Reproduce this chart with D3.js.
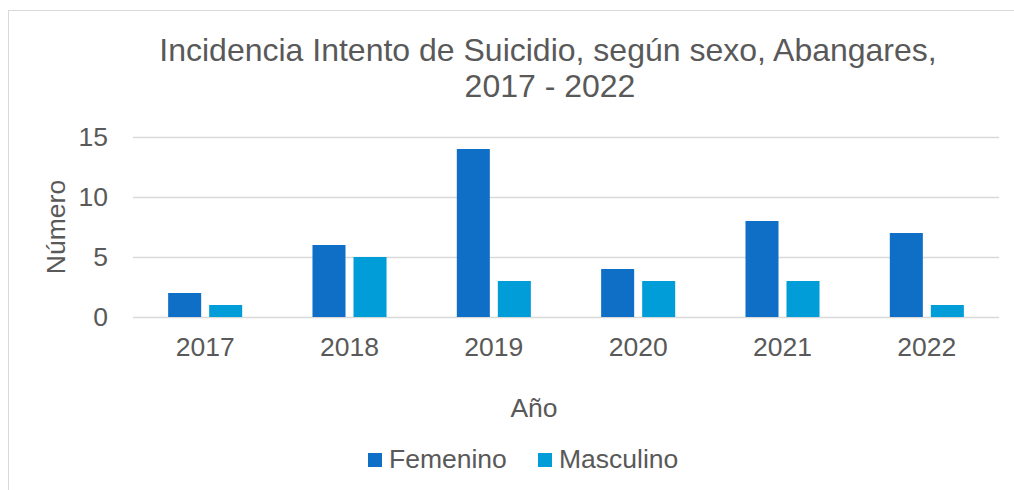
<!DOCTYPE html>
<html>
<head>
<meta charset="utf-8">
<script src="https://cdn.jsdelivr.net/npm/d3@7"></script>
<style>
  body { margin: 0; background: #fff; }
  text { font-family: "Liberation Sans", Arial, sans-serif; fill: #595959; }
</style>
</head>
<body>
<div id="chart"></div>
<script>
// data
var years = ["2017", "2018", "2019", "2020", "2021", "2022"];
var femenino = [2, 6, 14, 4, 8, 7];
var masculino = [1, 5, 3, 3, 3, 1];
var seriesNames = ["Femenino", "Masculino"];
var yTicks = [0, 5, 10, 15];
var colors = ["#0F6FC6", "#009DD9"];

var data = years.map(function(y, i) {
  return { year: y, values: [femenino[i], masculino[i]] };
});

var W = 1014, H = 490;
var margin = {top: 137, right: 15, bottom: 173, left: 133},
    width = W - margin.left - margin.right,
    height = H - margin.top - margin.bottom;

var root = d3.select("#chart")
  .append("svg")
    .attr("width", W)
    .attr("height", H);

// chart border (runs off right and bottom)
root.append("rect")
  .attr("x", 8.5).attr("y", 10.5)
  .attr("width", 1200).attr("height", 600)
  .attr("fill", "none")
  .attr("stroke", "#D9D9D9")
  .attr("stroke-width", 1);

// title
var title = root.append("text")
  .attr("text-anchor", "middle")
  .style("font-size", "32px");
title.append("tspan").attr("x", 548).attr("y", 61)
  .text("Incidencia Intento de Suicidio, según sexo, Abangares,");
title.append("tspan").attr("x", 550).attr("y", 97)
  .text("2017 - 2022");

var svg = root.append("g")
  .attr("transform", "translate(" + margin.left + "," + margin.top + ")");

// scales
var x0 = d3.scaleBand()
  .domain(years)
  .range([0, width])
  .paddingInner(0.487)
  .paddingOuter(0.2435);

var x1 = d3.scaleBand()
  .domain(seriesNames)
  .range([0, x0.bandwidth()])
  .paddingInner(0.195);

var y = d3.scaleLinear()
  .domain([0, 15])
  .range([height, 0]);

// gridlines
svg.append("g")
  .call(d3.axisLeft(y).tickValues(yTicks).tickSize(-width).tickFormat(""))
  .call(function(g) {
    g.select(".domain").remove();
    g.selectAll("line").attr("stroke", "#D9D9D9").attr("stroke-width", 1.5);
  });

// y tick labels
svg.append("g")
  .call(d3.axisLeft(y).tickValues(yTicks).tickSize(0).tickPadding(25))
  .call(function(g) {
    g.select(".domain").remove();
    g.selectAll("text").style("font-size", "26.5px").attr("fill", "#595959")
      .style("font-family", "Liberation Sans, Arial, sans-serif");
  });

// x axis labels
svg.append("g")
  .attr("transform", "translate(0," + height + ")")
  .call(d3.axisBottom(x0).tickSize(0).tickPadding(20))
  .call(function(g) {
    g.select(".domain").remove();
    g.selectAll("text").style("font-size", "26.5px").attr("fill", "#595959")
      .style("font-family", "Liberation Sans, Arial, sans-serif");
  });

// bars
var groups = svg.selectAll(".grp")
  .data(data)
  .enter()
  .append("g")
    .attr("class", "grp")
    .attr("transform", function(d) { return "translate(" + x0(d.year) + ",0)"; });

groups.selectAll("rect")
  .data(function(d) { return d.values.map(function(v, i) { return {name: seriesNames[i], value: v, i: i}; }); })
  .enter()
  .append("rect")
    .attr("x", function(d) { return x1(d.name); })
    .attr("width", x1.bandwidth())
    .attr("y", function(d) { return y(d.value); })
    .attr("height", function(d) { return height - y(d.value); })
    .attr("fill", function(d) { return colors[d.i]; });

// axis titles
root.append("text")
  .attr("text-anchor", "middle")
  .attr("transform", "translate(65,227)rotate(-90)")
  .style("font-size", "26.5px")
  .text("Número");

root.append("text")
  .attr("text-anchor", "middle")
  .attr("x", 534).attr("y", 417)
  .style("font-size", "26.5px")
  .text("Año");

// legend
var legX = [368, 538];
var legend = root.selectAll(".leg")
  .data(seriesNames)
  .enter()
  .append("g")
    .attr("class", "leg")
    .attr("transform", function(d, i) { return "translate(" + legX[i] + ",453)"; });
legend.append("rect")
  .attr("width", 14).attr("height", 14)
  .attr("fill", function(d, i) { return colors[i]; });
legend.append("text")
  .attr("x", 21).attr("y", 15)
  .style("font-size", "26.5px")
  .text(function(d) { return d; });
</script>
</body>
</html>
